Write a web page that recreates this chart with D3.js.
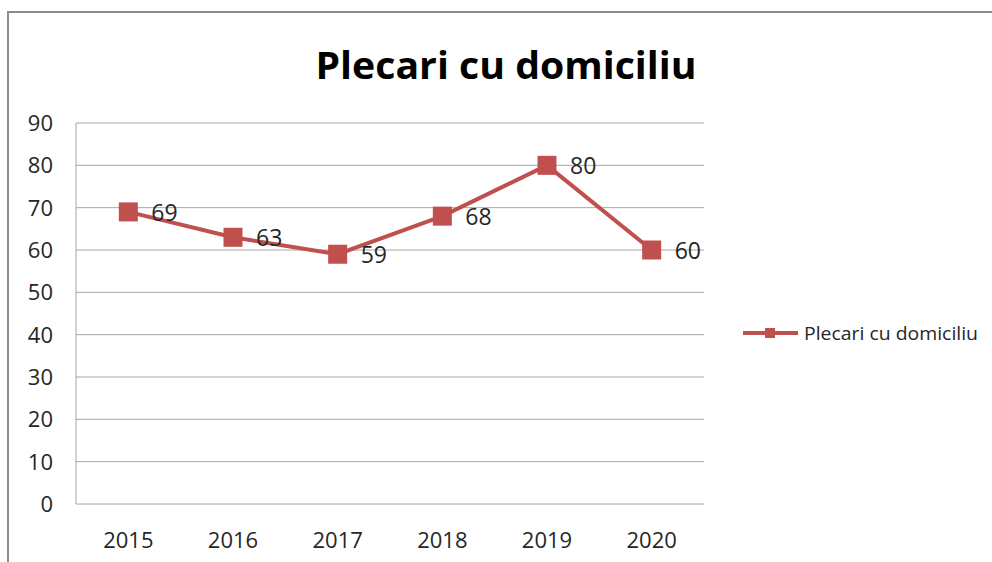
<!DOCTYPE html>
<html>
<head>
<meta charset="utf-8">
<script src="https://cdn.jsdelivr.net/npm/d3@7"></script>
<style>
  body { margin: 0; background: #fff; }
  text { font-family: "Open Sans", "Noto Sans", sans-serif; fill: #262626; }
</style>
</head>
<body>
<div class="vis-linechart"></div>
<script>
const years = ['2015', '2016', '2017', '2018', '2019', '2020'];
const values = [69, 63, 59, 68, 80, 60];
const yTicks = [0, 10, 20, 30, 40, 50, 60, 70, 80, 90];
const seriesName = 'Plecari cu domiciliu';
const titleText = 'Plecari cu domiciliu';

const W = 992, H = 562;
const color = '#C0504D';
const margin = { top: 123, right: 288, bottom: 58, left: 76 };
const width = W - margin.left - margin.right;
const height = H - margin.top - margin.bottom;

const svg = d3.select('.vis-linechart').append('svg')
    .attr('width', W)
    .attr('height', H);

// outer chart frame (only left + top visible)
svg.append('path')
    .attr('d', 'M8,' + H + 'V12H' + W)
    .attr('fill', 'none')
    .attr('stroke', '#8c8c8c')
    .attr('stroke-width', 2);

// title
svg.append('text')
    .attr('x', 506)
    .attr('y', 79)
    .attr('text-anchor', 'middle')
    .attr('font-size', 37)
    .attr('font-weight', 'bold')
    .style('fill', '#000')
    .attr('textLength', 381)
    .attr('lengthAdjust', 'spacingAndGlyphs')
    .text(titleText);

const g = svg.append('g').attr('transform', `translate(${margin.left},${margin.top})`);

var x = d3.scaleBand().domain(years).range([0, width]);
var y = d3.scaleLinear().domain([0, 90]).range([height, 0]);

// gridlines
g.append('g').selectAll('line')
    .data(yTicks.filter(d => d > 0))
    .join('line')
    .attr('x1', 0).attr('x2', width)
    .attr('y1', d => y(d)).attr('y2', d => y(d))
    .attr('stroke', '#a6a6a6')
    .attr('stroke-width', 1);

// axis lines
g.append('line')
    .attr('x1', 0).attr('x2', 0).attr('y1', 0).attr('y2', height)
    .attr('stroke', '#a6a6a6');
g.append('line')
    .attr('x1', 0).attr('x2', width).attr('y1', height).attr('y2', height)
    .attr('stroke', '#a6a6a6');

// y tick labels
g.append('g').selectAll('text')
    .data(yTicks)
    .join('text')
    .attr('x', -23)
    .attr('y', d => y(d) + 8)
    .attr('text-anchor', 'end')
    .attr('font-size', 22)
    .text(d => d);

// x tick labels
g.append('g').selectAll('text')
    .data(years)
    .join('text')
    .attr('x', d => x(d) + x.bandwidth() / 2)
    .attr('y', height + 44)
    .attr('text-anchor', 'middle')
    .attr('font-size', 22)
    .text(d => d);

const cx = (d, i) => x(years[i]) + x.bandwidth() / 2;

// line
const line = d3.line()
    .x((d, i) => cx(d, i))
    .y(d => y(d));
g.append('path')
    .datum(values)
    .attr('d', line)
    .attr('fill', 'none')
    .attr('stroke', color)
    .attr('stroke-width', 4)
    .attr('stroke-linejoin', 'round');

// markers
const ms = 19;
g.append('g').selectAll('rect')
    .data(values)
    .join('rect')
    .attr('x', (d, i) => cx(d, i) - ms / 2)
    .attr('y', d => y(d) - ms / 2)
    .attr('width', ms)
    .attr('height', ms)
    .attr('fill', color);

// data labels
g.append('g').selectAll('text')
    .data(values)
    .join('text')
    .attr('x', (d, i) => cx(d, i) + 23)
    .attr('y', d => y(d) + 9)
    .attr('font-size', 23)
    .text(d => d);

// legend
const lg = svg.append('g').attr('transform', 'translate(743,333)');
lg.append('line')
    .attr('x1', 0).attr('x2', 55).attr('y1', 0).attr('y2', 0)
    .attr('stroke', color).attr('stroke-width', 4);
lg.append('rect')
    .attr('x', 22).attr('y', -5).attr('width', 10).attr('height', 10)
    .attr('fill', color);
lg.append('text')
    .attr('x', 61)
    .attr('y', 7)
    .attr('font-size', 18)
    .attr('textLength', 174)
    .attr('lengthAdjust', 'spacingAndGlyphs')
    .text(seriesName);
</script>
</body>
</html>
